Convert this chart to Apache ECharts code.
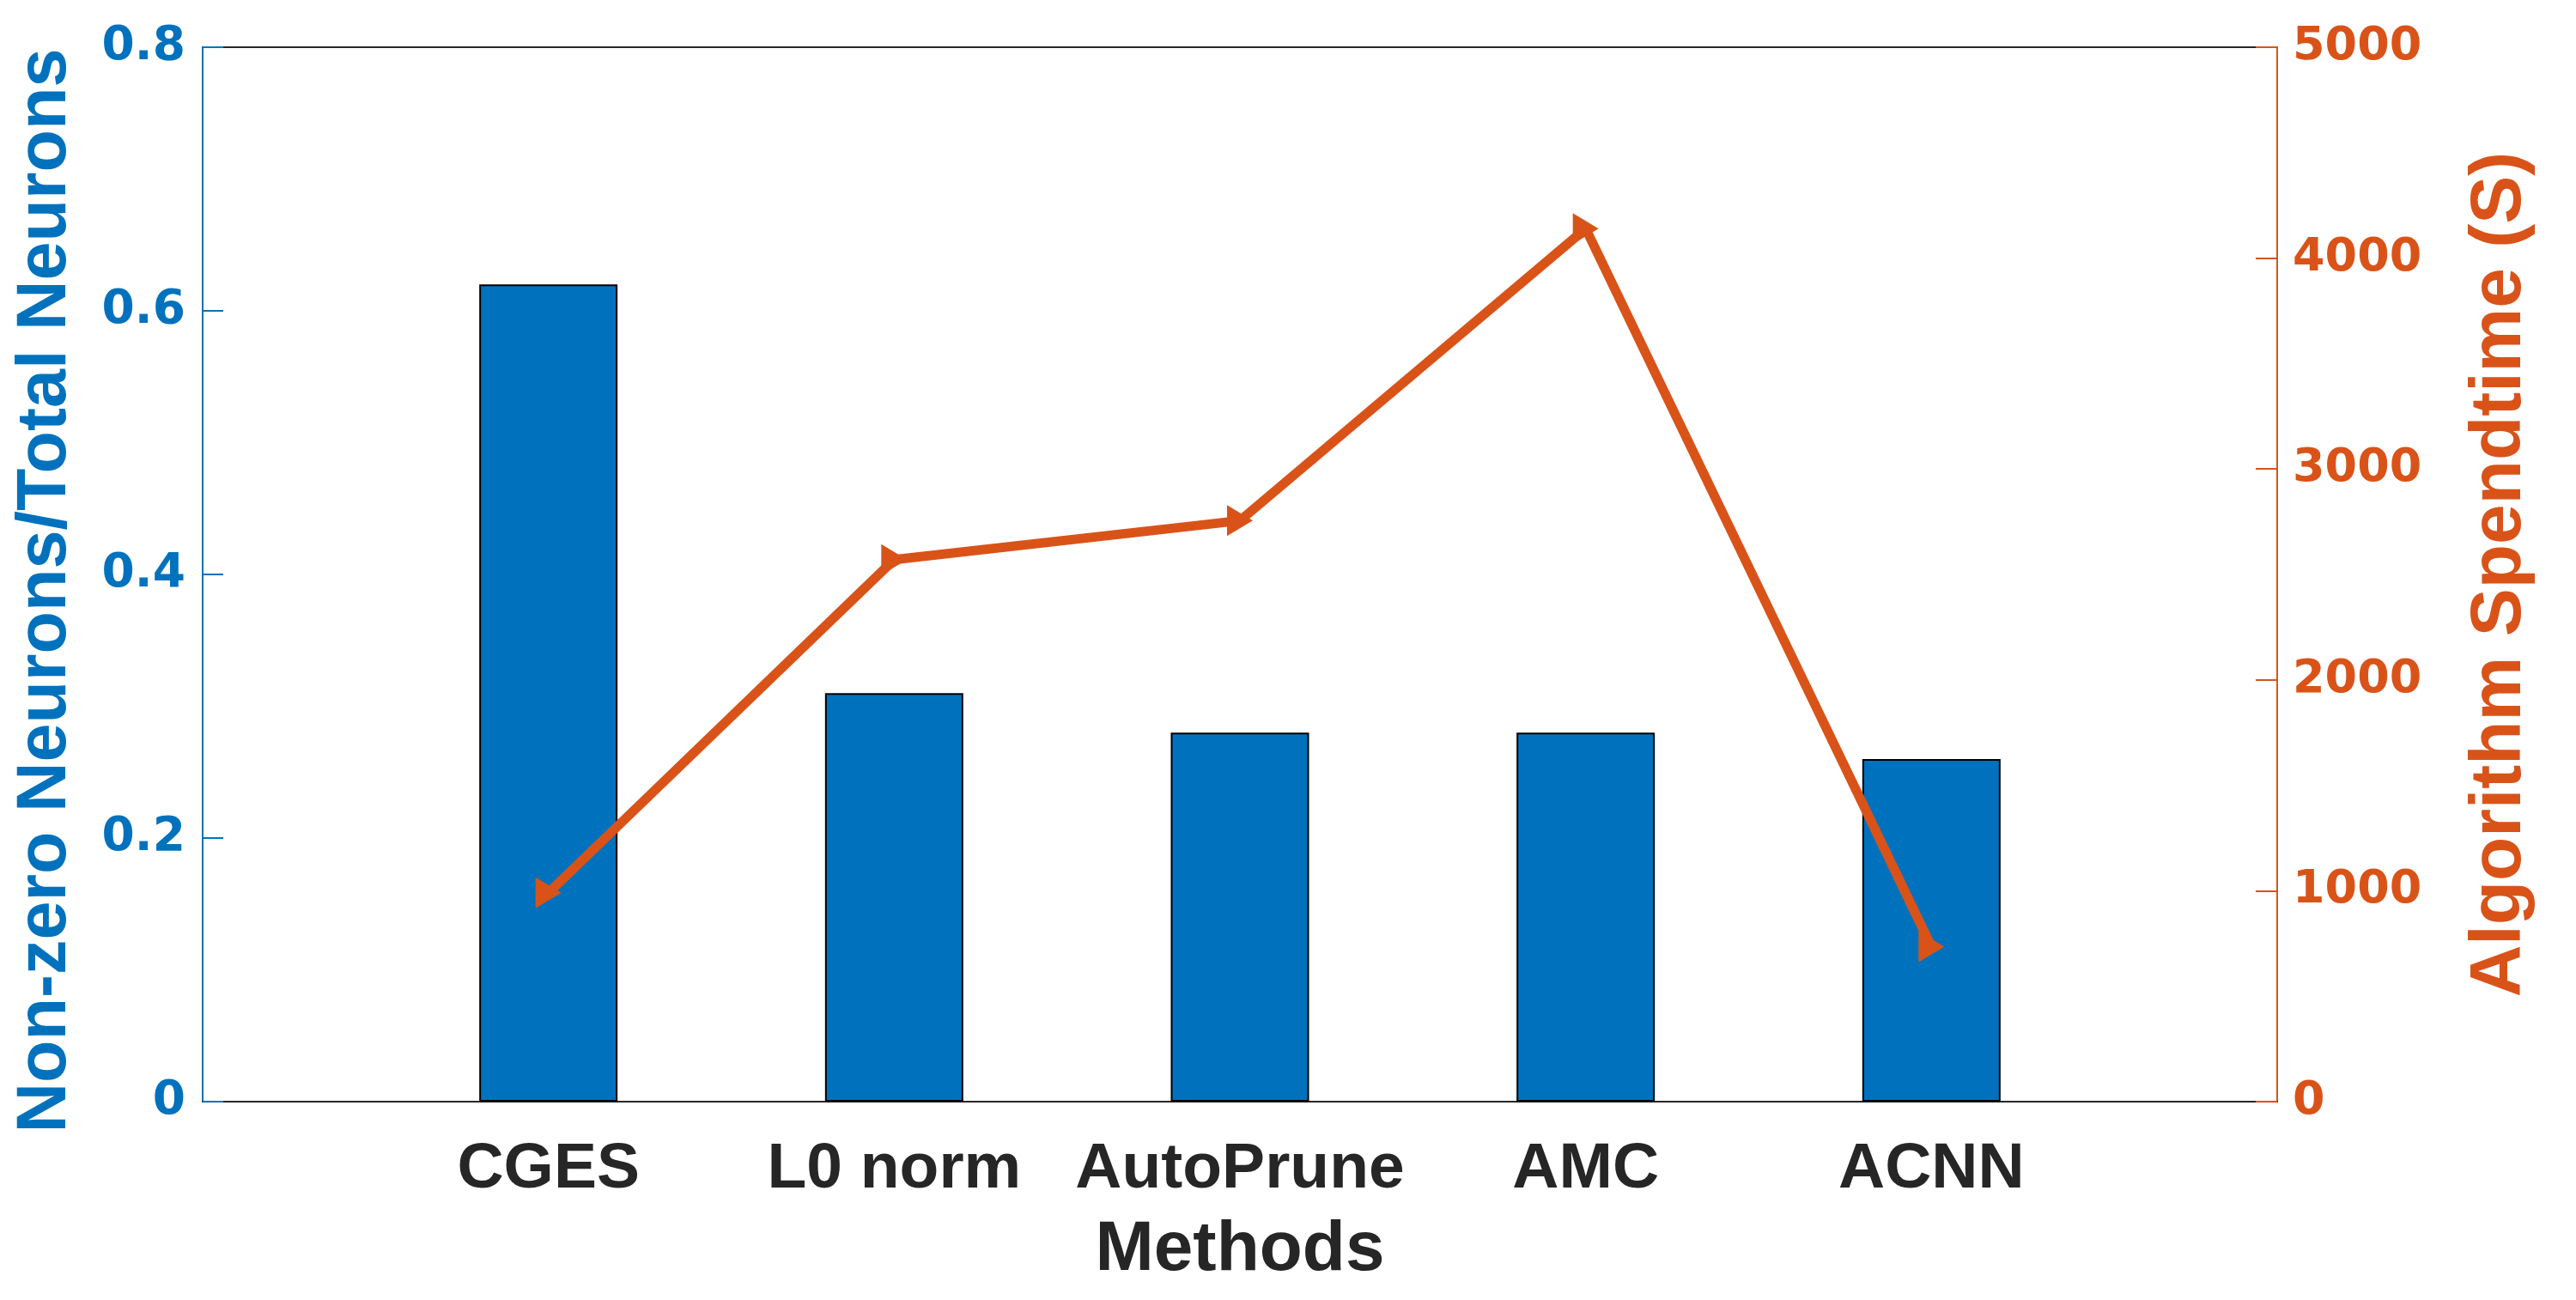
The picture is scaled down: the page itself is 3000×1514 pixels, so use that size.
<!DOCTYPE html>
<html>
<head>
<meta charset="utf-8">
<script src="https://cdn.jsdelivr.net/npm/echarts@6/dist/echarts.min.js"></script>
<style>
html,body{margin:0;padding:0;background:#fff;}
#c{width:3000px;height:1514px;}
</style>
</head>
<body>
<div id="c"></div>
<script>
var categories = ['CGES', 'L0 norm', 'AutoPrune', 'AMC', 'ACNN'];
var ratioValues = [0.62, 0.31, 0.28, 0.28, 0.26];
var timeValues = [990, 2570, 2755, 4140, 735];
var leftTicks = [0, 0.2, 0.4, 0.6, 0.8];
var rightTicks = [0, 1000, 2000, 3000, 4000, 5000];

var BLUE = '#0072BD', ORANGE = '#D95319', DARK = '#262626';
var FONT = 'Liberation Sans, Arial, Helvetica, sans-serif';
var TICKFONT = 'DejaVu Sans, Verdana, sans-serif';
var positions = categories.map(function (c, i) { return i + 1; });

var chart = echarts.init(document.getElementById('c'));
chart.setOption({
  backgroundColor: '#fff',
  animation: false,
  grid: { left: 236, right: 348, top: 55, bottom: 231, show: true, borderColor: DARK, borderWidth: 2, backgroundColor: 'transparent' },
  xAxis: {
    type: 'value', min: 0, max: categories.length + 1, interval: 1,
    name: 'Methods', nameLocation: 'middle', nameGap: 132,
    nameTextStyle: { fontFamily: FONT, fontWeight: 'bold', fontSize: 82, color: DARK },
    axisLine: { show: true, lineStyle: { color: DARK, width: 2 } },
    axisTick: { show: true, inside: true, length: 25, lineStyle: { color: DARK, width: 2 }, customValues: positions },
    axisLabel: { show: true, margin: 42, fontFamily: FONT, fontWeight: 'bold', fontSize: 75, color: DARK,
      customValues: positions,
      formatter: function (v) { return categories[Math.round(v) - 1] || ''; } },
    splitLine: { show: false }
  },
  yAxis: [
    {
      type: 'value', min: leftTicks[0], max: leftTicks[leftTicks.length - 1], interval: 0.2, position: 'left',
      name: 'Non-zero Neurons/Total Neurons', nameLocation: 'middle', nameGap: 142,
      nameTextStyle: { fontFamily: FONT, fontWeight: 'bold', fontSize: 81, color: BLUE, padding: [0, 38, 0, 0] },
      axisLine: { show: true, lineStyle: { color: BLUE, width: 2 } },
      axisTick: { show: true, inside: true, length: 24, lineStyle: { color: BLUE, width: 2 } },
      axisLabel: { margin: 20, fontFamily: TICKFONT, fontWeight: 'bold', fontSize: 55, color: BLUE,
        formatter: function (v) { return String(Math.round(v * 10) / 10); } },
      splitLine: { show: false }
    },
    {
      type: 'value', min: rightTicks[0], max: rightTicks[rightTicks.length - 1], interval: 1000, position: 'right',
      name: 'Algorithm Spendtime (S)', nameLocation: 'middle', nameGap: 218, nameRotate: 90,
      nameTextStyle: { fontFamily: FONT, fontWeight: 'bold', fontSize: 84, color: ORANGE },
      axisLine: { show: true, lineStyle: { color: ORANGE, width: 2 } },
      axisTick: { show: true, inside: true, length: 25, lineStyle: { color: ORANGE, width: 2 } },
      axisLabel: { margin: 18, fontFamily: TICKFONT, fontWeight: 'bold', fontSize: 54, color: ORANGE,
        formatter: function (v) { return String(v); } },
      splitLine: { show: false }
    }
  ],
  series: [
    {
      type: 'bar', yAxisIndex: 0, barWidth: 161,
      data: ratioValues.map(function (v, i) { return [positions[i], v]; }),
      itemStyle: { color: BLUE, borderColor: '#000', borderWidth: 2 },
      z: 2
    },
    {
      type: 'line', yAxisIndex: 1,
      data: timeValues.map(function (v, i) { return [positions[i], v]; }),
      lineStyle: { color: ORANGE, width: 11 },
      itemStyle: { color: ORANGE },
      symbol: 'triangle', symbolRotate: -90, symbolSize: [36, 30],
      z: 5
    }
  ]
});
</script>
</body>
</html>
